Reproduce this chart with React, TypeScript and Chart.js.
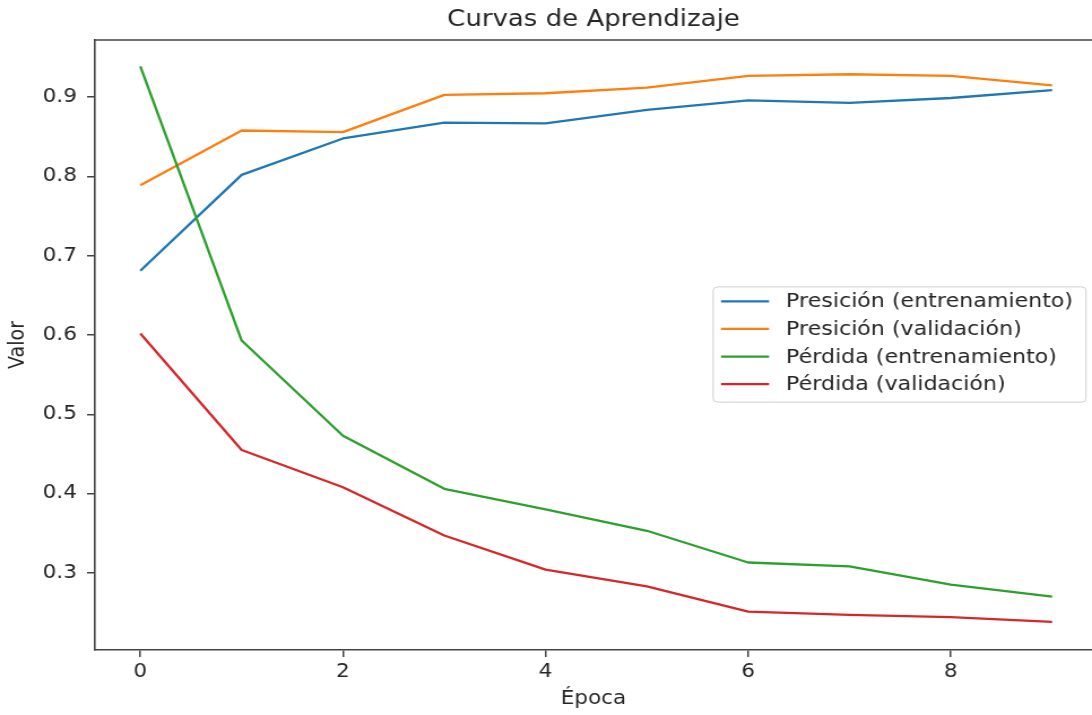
import { useEffect, useRef } from "react";
import { Chart, registerables } from "chart.js";

Chart.register(...registerables);

// Training history per epoch
const epochs = [0, 1, 2, 3, 4, 5, 6, 7, 8, 9];
const trainAccuracy = [0.681, 0.802, 0.848, 0.868, 0.867, 0.884, 0.896, 0.893, 0.899, 0.909];
const valAccuracy = [0.789, 0.858, 0.856, 0.903, 0.905, 0.912, 0.927, 0.929, 0.927, 0.915];
const trainLoss = [0.939, 0.593, 0.473, 0.406, 0.380, 0.353, 0.313, 0.308, 0.285, 0.270];
const valLoss = [0.602, 0.455, 0.408, 0.347, 0.304, 0.283, 0.251, 0.247, 0.244, 0.238];

const seriesLabels = [
  "Presición (entrenamiento)",
  "Presición (validación)",
  "Pérdida (entrenamiento)",
  "Pérdida (validación)",
];
const seriesColors = ["#1f77b4", "#ff7f0e", "#2ca02c", "#d62728"];

const xTickValues = [0, 2, 4, 6, 8];
const yTickValues = [0.3, 0.4, 0.5, 0.6, 0.7, 0.8, 0.9];

const X_MIN = -0.448;
const X_MAX = 9.394;
const Y_MIN = 0.2026;
const Y_MAX = 0.9722;

// The figure is rendered on a narrower canvas and widened with CSS.
const PAGE_W = 1092;
const PAGE_H = 715;
const STRETCH = 1.13;
const CANVAS_W = Math.round(PAGE_W / STRETCH);

const FONT = "'DejaVu Sans', 'Liberation Sans', sans-serif";
const TEXT = "#262626";
const SPINE = "#444444";

Chart.defaults.font.family = FONT;

// Top spine of the axes frame
const topSpine = {
  id: "topSpine",
  afterDatasetsDraw(chart: any) {
    const { ctx, chartArea } = chart;
    ctx.save();
    ctx.strokeStyle = SPINE;
    ctx.lineWidth = 1.6;
    ctx.beginPath();
    ctx.moveTo(chartArea.left - 0.8, chartArea.top);
    ctx.lineTo(chartArea.right, chartArea.top);
    ctx.stroke();
    ctx.restore();
  },
};

// Framed legend at the centre-right of the axes
const framedLegend = {
  id: "framedLegend",
  afterDraw(chart: any) {
    const { ctx, chartArea } = chart;
    const datasets = chart.data.datasets;
    const fontSize = 19.6;
    const rowGap = 27.6;
    const padLeft = 7;
    const handleLen = 42.5;
    const handleGap = 15;
    const padRight = 11.5;

    ctx.save();
    ctx.font = `${fontSize}px ${FONT}`;
    let textW = 0;
    datasets.forEach((ds: any) => {
      textW = Math.max(textW, ctx.measureText(ds.label).width);
    });
    const boxW = padLeft + handleLen + handleGap + textW + padRight;
    const boxH = rowGap * (datasets.length - 1) + 32.5;
    const right = chartArea.right - 5.3;
    const left = right - boxW;
    const midY = (chartArea.top + chartArea.bottom) / 2 - 0.5;
    const top = midY - boxH / 2;

    ctx.beginPath();
    ctx.roundRect(left, top, boxW, boxH, 4);
    ctx.fillStyle = "rgba(255,255,255,0.8)";
    ctx.fill();
    ctx.strokeStyle = "#d0d0d0";
    ctx.lineWidth = 1;
    ctx.stroke();

    ctx.textBaseline = "middle";
    ctx.textAlign = "left";
    const firstY = top + 14.5;
    datasets.forEach((ds: any, i: number) => {
      const y = firstY + i * rowGap;
      ctx.strokeStyle = ds.borderColor;
      ctx.lineWidth = 2.3;
      ctx.beginPath();
      ctx.moveTo(left + padLeft, y);
      ctx.lineTo(left + padLeft + handleLen, y);
      ctx.stroke();
      ctx.fillStyle = TEXT;
      ctx.fillText(ds.label, left + padLeft + handleLen + handleGap, y + 1);
    });
    ctx.restore();
  },
};

const seriesValues = [trainAccuracy, valAccuracy, trainLoss, valLoss];

export default function App() {
  const canvasRef = useRef<HTMLCanvasElement>(null);

  useEffect(() => {
    const canvas = canvasRef.current;
    if (!canvas) return;

    const datasets = seriesValues.map((values, i) => ({
      label: seriesLabels[i],
      data: epochs.map((e, j) => ({ x: e, y: values[j] })),
      borderColor: seriesColors[i],
      backgroundColor: seriesColors[i],
      borderWidth: 2.3,
      pointRadius: 0,
      tension: 0,
      fill: false,
      borderJoinStyle: "round" as const,
      order: seriesValues.length - 1 - i,
    }));

    const chart = new Chart(canvas, {
      type: "line",
      data: { datasets },
      options: {
        responsive: false,
        animation: false,
        devicePixelRatio: 1,
        layout: { padding: 0 },
        plugins: {
          legend: { display: false },
          tooltip: { enabled: false },
          title: {
            display: true,
            text: "Curvas de Aprendizaje",
            fullSize: false,
            color: TEXT,
            font: { size: 23, weight: "normal" },
            padding: { top: 6, bottom: 6.4 },
          },
        },
        scales: {
          x: {
            type: "linear",
            min: X_MIN,
            max: X_MAX,
            afterBuildTicks: (scale: any) => {
              scale.ticks = xTickValues.map((value) => ({ value }));
            },
            afterFit: (scale: any) => {
              scale.height = 65;
            },
            ticks: {
              autoSkip: false,
              maxRotation: 0,
              padding: 4,
              color: TEXT,
              font: { size: 19 },
              callback: (v: any) => String(v),
            },
            grid: {
              drawOnChartArea: false,
              drawTicks: true,
              tickLength: 7,
              tickColor: SPINE,
              lineWidth: 1.5,
            },
            border: { display: true, color: SPINE, width: 1.6 },
            title: {
              display: true,
              text: "Época",
              color: TEXT,
              font: { size: 19 },
              padding: { top: 0, bottom: 5 },
            },
          },
          y: {
            type: "linear",
            min: Y_MIN,
            max: Y_MAX,
            afterBuildTicks: (scale: any) => {
              scale.ticks = yTickValues.map((value) => ({ value }));
            },
            afterFit: (scale: any) => {
              scale.width = 84;
            },
            ticks: {
              autoSkip: false,
              padding: 9,
              color: TEXT,
              font: { size: 19 },
              callback: (v: any) => Number(v).toFixed(1),
            },
            grid: {
              drawOnChartArea: false,
              drawTicks: true,
              tickLength: 7,
              tickColor: SPINE,
              lineWidth: 1.5,
            },
            border: { display: true, color: SPINE, width: 1.6 },
            title: {
              display: true,
              text: "Valor",
              color: TEXT,
              font: { size: 19 },
              padding: { top: 5, bottom: 0 },
            },
          },
        },
      },
      plugins: [topSpine, framedLegend],
    });

    canvas.style.width = `${PAGE_W}px`;
    canvas.style.height = `${PAGE_H}px`;

    return () => chart.destroy();
  }, []);

  return (
    <div
      style={{
        position: "fixed",
        left: 0,
        top: 0,
        width: PAGE_W,
        height: PAGE_H,
        background: "#ffffff",
        overflow: "hidden",
      }}
    >
      <canvas
        ref={canvasRef}
        width={CANVAS_W}
        height={PAGE_H}
        style={{ display: "block", width: `${PAGE_W}px`, height: `${PAGE_H}px` }}
      />
    </div>
  );
}
